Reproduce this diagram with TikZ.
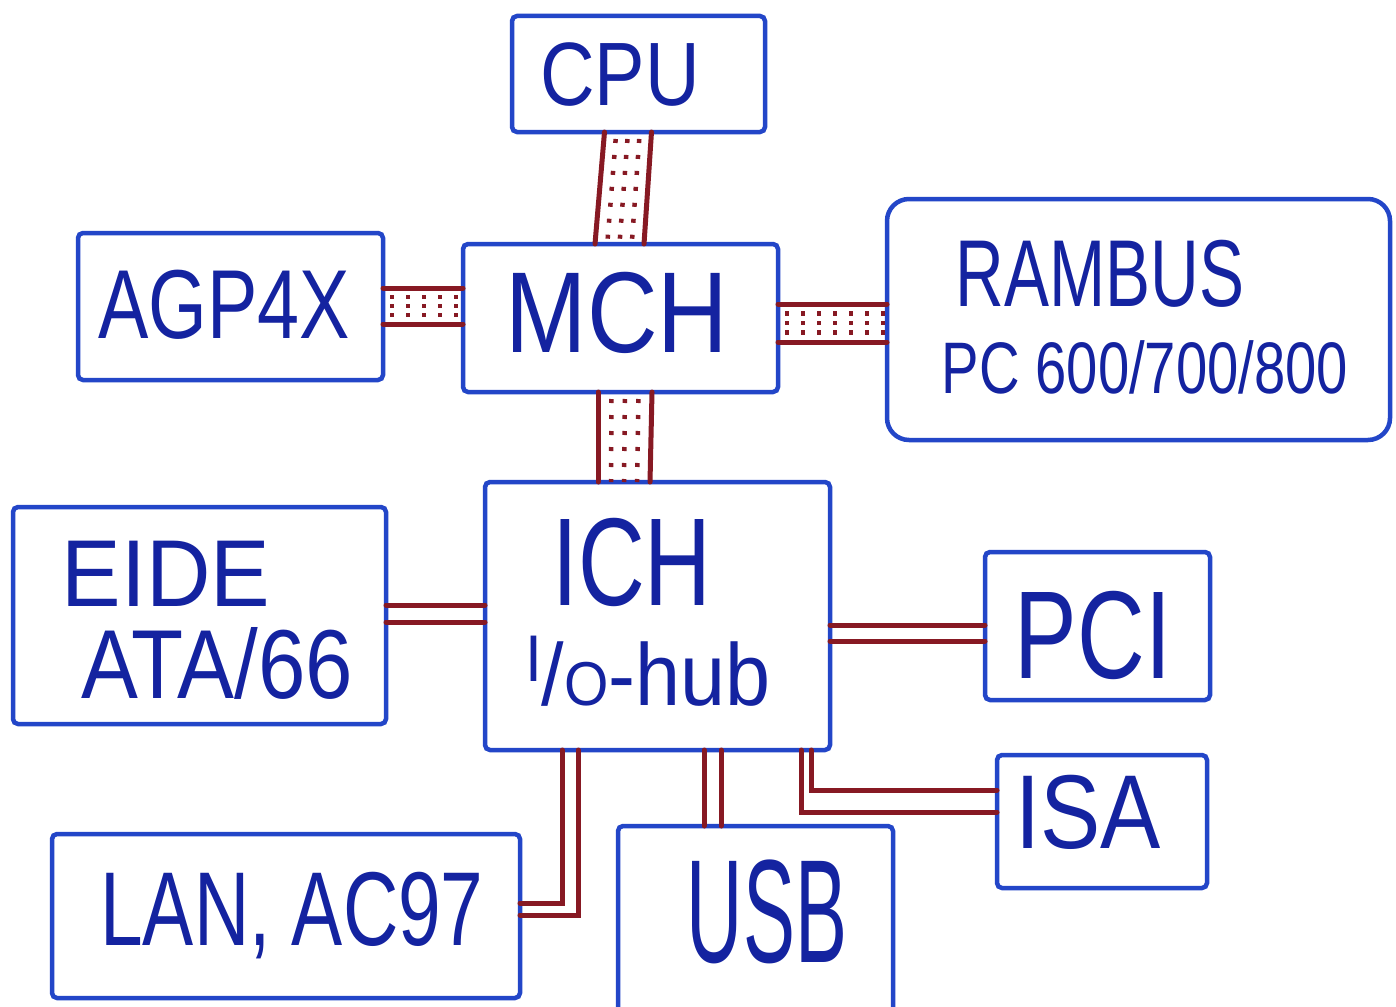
\documentclass[tikz,border=0pt]{standalone}
\usepackage{fontspec}
\setmainfont{Liberation Sans}
\usepackage{graphicx}
\usetikzlibrary{calc}
\definecolor{boxblue}{RGB}{35,70,200}
\definecolor{inkblue}{RGB}{20,35,160}
\definecolor{busred}{RGB}{135,25,35}
\newcommand{\hw}[3]{\scalebox{#2}[1]{\fontsize{#1}{#1}\selectfont #3}}
\newcommand{\widebus}[4]{%
  \draw[wire] (#1) -- (#3);
  \draw[wire] (#2) -- (#4);
  \foreach \f in {0.25,0.5,0.75}{\draw[busdots] ($(#1)!\f!(#2)$) -- ($(#3)!\f!(#4)$);}}
\begin{document}
\begin{tikzpicture}[x=1pt,y=-1pt,
  blk/.style={draw=boxblue, line width=4.5pt, rounded corners=5pt, inner sep=0pt, outer sep=0pt},
  lbl/.style={anchor=base, inner sep=0pt, text=inkblue},
  wire/.style={draw=busred, line width=5pt, line cap=round},
  busdots/.style={draw=busred, line width=4.5pt, dash pattern=on 4pt off 12pt, dash phase=-7pt}]
\useasboundingbox (0,0) rectangle (1396,1006);
\fill[white] (0,0) rectangle (1396,1006);

% boxes
\node[blk, minimum width=253pt, minimum height=116pt] (cpu) at (638.5,74) {};
\node[blk, minimum width=305pt, minimum height=147pt] (agp) at (230.5,306.5) {};
\node[blk, minimum width=315pt, minimum height=148pt] (mch) at (620.5,318) {};
\node[blk, rounded corners=22pt, minimum width=503pt, minimum height=241pt] (ram) at (1138.5,319.5) {};
\node[blk, minimum width=345pt, minimum height=268pt] (ich) at (657.5,616) {};
\node[blk, minimum width=373pt, minimum height=217pt] (eide) at (199.5,615.5) {};
\node[blk, minimum width=225pt, minimum height=148pt] (pci) at (1097.5,626) {};
\node[blk, minimum width=210pt, minimum height=133pt] (isa) at (1102,821.5) {};
\node[blk, minimum width=468pt, minimum height=164pt] (lan) at (286,916) {};
\node[blk, minimum width=275pt, minimum height=190pt] (usb) at (755.5,921) {};

% labels
\node[lbl] (cput) at (620,106) {\hw{90}{0.84}{CPU}};
\node[lbl] (mcht) at (617,352) {\hw{115}{0.85}{MCH}};
\node[lbl] (agpt) at (224,338) {\hw{98}{0.77}{AGP4X}};
\node[lbl] (ramt) at (1100,306) {\hw{95}{0.71}{RAMBUS}};
\node[lbl] (pct) at (1145,393) {\hw{73}{0.77}{PC 600/700/800}};
\node[lbl] (icht) at (632,605) {\hw{125}{0.74}{ICH}};
\node[lbl] (hubt) at (648,705) {\hw{88}{0.92}{\raisebox{24pt}{\fontsize{66}{66}\selectfont I}/{\fontsize{62}{62}\selectfont O}-hub}};
\node[lbl] (eidet) at (166,606) {\hw{95}{0.94}{EIDE}};
\node[lbl] (atat) at (217,698) {\hw{98}{0.87}{ATA/66}};
\node[lbl] (pcit) at (1093,678) {\hw{125}{0.75}{PCI}};
\node[lbl] (isat) at (1088,848) {\hw{105}{0.86}{ISA}};
\node[lbl] (lant) at (292,945) {\hw{105}{0.73}{LAN, AC97}};
\node[lbl] (usbt) at (767,962) {\hw{147}{0.53}{USB}};

% wide buses around the MCH
\coordinate (cm1) at ($(cpu.south)+(-34,0)$);
\coordinate (cm2) at ($(cpu.south)+(13,0)$);
\coordinate (cm3) at ($(mch.north)+(-25.5,0)$);
\coordinate (cm4) at ($(mch.north)+(23.5,0)$);
\widebus{cm1}{cm2}{cm3}{cm4}

\coordinate (am1) at ($(agp.east)+(0,-18.5)$);
\coordinate (am2) at ($(agp.east)+(0,17.5)$);
\coordinate (am3) at ($(mch.west)+(0,-30)$);
\coordinate (am4) at ($(mch.west)+(0,6)$);
\widebus{am1}{am2}{am3}{am4}

\coordinate (mr1) at ($(mch.east)+(0,-14)$);
\coordinate (mr2) at ($(mch.east)+(0,24)$);
\coordinate (mr3) at ($(ram.west)+(0,-15.5)$);
\coordinate (mr4) at ($(ram.west)+(0,22.5)$);
\widebus{mr1}{mr2}{mr3}{mr4}

\coordinate (mi1) at ($(mch.south)+(-22.5,0)$);
\coordinate (mi2) at ($(mch.south)+(31.5,0)$);
\coordinate (mi3) at ($(ich.north)+(-59.5,0)$);
\coordinate (mi4) at ($(ich.north)+(-7.5,0)$);
\widebus{mi1}{mi2}{mi3}{mi4}

% narrow buses around the ICH
\draw[wire] ($(eide.east)+(0,-10.5)$) -- ($(ich.west)+(0,-11)$);
\draw[wire] ($(eide.east)+(0,6.5)$) -- ($(ich.west)+(0,6)$);

\draw[wire] ($(ich.east)+(0,9)$) -- ($(pci.west)+(0,-1)$);
\draw[wire] ($(ich.east)+(0,25)$) -- ($(pci.west)+(0,15)$);

\draw[wire] ($(ich.south)+(46.5,0)$) -- ($(usb.north)+(-51.5,0)$);
\draw[wire] ($(ich.south)+(63.5,0)$) -- ($(usb.north)+(-34.5,0)$);

\draw[wire] ($(ich.south)+(153.5,0)$) |- ($(isa.west)+(0,-31.5)$);
\draw[wire] ($(ich.south)+(143.5,0)$) |- ($(isa.west)+(0,-9.5)$);

\draw[wire] ($(ich.south)+(-95.5,0)$) |- ($(lan.east)+(0,-13)$);
\draw[wire] ($(ich.south)+(-79.5,0)$) |- ($(lan.east)+(0,-1)$);
\end{tikzpicture}
\end{document}
